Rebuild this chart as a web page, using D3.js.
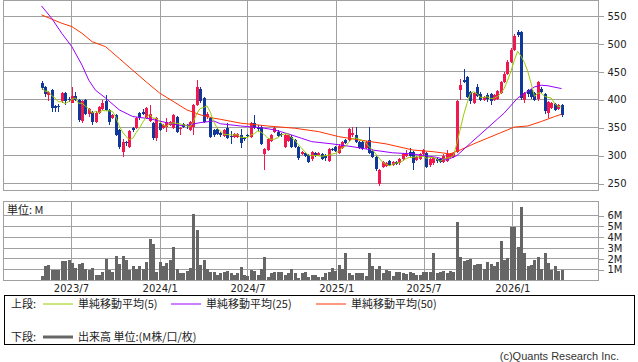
<!DOCTYPE html>
<html>
<head>
<meta charset="utf-8">
<script src="https://cdn.jsdelivr.net/npm/d3@7"></script>
<style>
    body { margin: 0; background: #fff; }
    svg { display: block; font-family: "DejaVu Sans", sans-serif; }
    .jp { font-family: "Noto Sans CJK JP", sans-serif; }
</style>
</head>
<body>
<svg id="chart" width="638" height="362"></svg>
<script>
// weekly bars, first week
const firstWeek = new Date(2023, 4, 1);

const opens = [
    430,423,409,417,388,389,397,412,402,395, 407,400,362,400,374,378,360,376,384,397,
    381,367,372,345,307,325,316,350,350,376, 378,367,362,358,331,358,350,351,355,349,
    369,348,357,355,346,352,390,420,403,370, 367,346,347,341,
    335,349,335,333,334,337,332,336,334,359, 352,352,303,310,327,343,343,338,316,326,
    334,328,316,303,305,301,293,304,301,302, 300,291,311,316,304,313,328,328,336,336,
    325,324,314,328,309,297,250,279,282,290, 283,289,286,293,300,307,307,292,294,
    303,305,283,286,293,293,288,291,298,298, 307,418,435,440,414,394,422,411,400,408,
    410,400,402,412,432,447,468,490,521,522, 400,418,418,412,401,420,410,376,386,392,384,390
];
const highs = [
    433,425,416,419,390,392,414,413,405,422, 413,402,400,401,386,380,379,389,399,409,
    383,374,374,347,330,327,346,352,369,378, 384,387,390,360,369,360,357,367,362,374,
    371,352,359,357,362,392,435,422,405,378, 369,348,349,343,
    348,359,344,340,340,348,334,338,361,373, 355,354,313,331,339,352,345,340,339,338,
    336,330,318,309,307,303,309,306,306,304, 302,313,313,318,320,326,330,349,352,352,
    327,326,327,352,311,299,276,291,289,292, 291,291,296,305,310,313,309,300,304,
    312,307,296,298,296,295,302,310,305,307, 399,438,455,442,416,414,428,413,407,412,
    412,410,418,434,450,472,492,517,525,524, 414,420,420,414,434,422,412,398,396,394,392,392
];
const lows = [
    418,405,398,378,378,378,395,390,396,395, 398,360,358,372,370,354,358,374,382,379,
    355,366,335,312,297,318,314,343,348,364, 372,365,360,328,326,344,348,343,353,347,
    340,337,350,348,344,337,388,395,358,366, 332,333,336,333,
    333,329,321,331,332,313,327,334,332,347, 344,319,275,308,325,340,333,333,314,324,
    314,313,292,301,297,287,291,297,299,292, 290,289,308,306,302,311,320,326,334,323,
    311,310,312,302,296,273,245,277,280,281, 281,283,284,291,298,297,274,290,292,
    301,277,279,283,287,286,286,289,296,296, 305,400,430,403,392,392,405,397,398,396,
    391,398,400,410,430,445,466,488,512,400, 395,405,402,398,398,412,375,368,384,379,382,370
];
const closes = [
    421,410,414,385,385,387,412,397,401,407, 400,363,398,375,384,361,377,387,395,381,
    361,372,337,316,325,322,344,346,367,367, 375,385,375,332,367,346,355,360,360,372,
    342,350,352,353,360,390,422,397,361,375, 334,337,338,336,
    346,331,334,338,338,323,329,335,359,349, 347,321,311,329,337,349,335,336,337,336,
    316,315,295,307,300,289,307,299,304,294, 295,311,310,308,318,324,322,347,340,325,
    313,312,325,304,298,276,274,289,287,283, 289,285,294,303,303,299,286,298,302,
    310,280,294,296,290,288,300,303,303,305, 397,426,432,405,397,412,407,400,405,402,
    398,408,416,432,447,468,489,514,516,403, 412,410,405,400,432,414,379,396,394,381,390,373
];
// volume in millions of shares
const volumes = [
    0.45,1.3,1.4,1.0,1.0,1.0,1.83,1.8,1.92,1.6, 1.2,1.55,1.65,1.1,1.0,1.2,0.5,0.55,0.75,2.0,
    0.95,0.8,2.3,1.55,2.3,1.9,0.95,1.3,1.1,1.3, 1.1,1.7,3.85,3.4,0.75,1.7,1.35,1.65,1.9,3.05,
    1.05,0.7,0.65,0.85,1.2,6.1,4.7,1.45,1.85,1.1, 0.75,0.75,0.5,0.7,0.75,0.85,0.65,0.55,0.7,1.25,
    0.55,0.45,0.95,0.9,0.5,1.1,2.2,0.35,0.7,0.75, 0.8,0.8,0.55,0.7,1.1,0.65,0.25,0.7,0.8,0.3,
    0.55,0.5,0.3,0.35,0.65,0.8,1.15,0.85,1.4,1.1, 2.5,0.7,0.55,0.7,0.65,0.65,0.4,2.5,1.3,1.1,
    1.3,0.65,1.0,0.9,0.45,0.8,0.8,0.7,0.6,0.8, 0.7,0.55,0.55,0.8,0.8,0.75,2.5,0.7,0.8,0.85,
    0.7,0.9,0.8,5.4,2.15,1.8,1.85,2.0,1.45,1.55, 1.55,1.1,1.7,1.55,1.35,1.7,3.65,1.9,2.05,4.95,
    4.9,3.1,6.75,2.55,1.3,1.45,1.85,2.15,1.1,2.55, 1.6,1.0,1.3,0.9,0.95
];

// moving averages (week index -> value)
const ma25Weeks  = [0,3,6,9,12,14,16,19,23,27,32,37,42,47,51,53,59,65,69,73,77,80,86,92,98,104,110,112,117,120,123,127,132,137,141,144,146,148,150,154];
const ma25Values = [568,546,519,495,462,435,417,403,382,370,366,359,353,359,362,357,353,350,346,339,331,325,321,316,310,305,303,301,297,292,300,322,349,376,403,415,423,426,425,420];
const ma50Weeks  = [0,6,9,12,15,19,23,27,31,35,39,43,47,51,53,59,67,75,82,88,94,102,110,116,121,124,128,132,136,140,144,148,152,154];
const ma50Values = [552,537,531,519,504,495,474,453,432,412,397,382,373,367,365,358,353,349,343,334,328,321,310,307,303,310,321,331,341,351,353,361,370,374];

const priceTicks = [250, 300, 350, 400, 450, 500, 550];
const volumeTicks = [1, 2, 3, 4, 5, 6];
const axisMonths = ["2023/7", "2024/1", "2024/7", "2025/1", "2025/7", "2026/1"];

const upColor = "#f0184e", downColor = "#10379a";
const gridColor = "#a0a0a0";

let dates = opens.map((_, i) => d3.timeWeek.offset(firstWeek, i));
let candles = dates.map((d, i) => ({date: d, o: opens[i], h: highs[i], l: lows[i], c: closes[i], v: volumes[i]}));

// 5 week average from the closes
let ma5 = candles.map((d, i) => ({date: d.date, v: d3.mean(closes.slice(Math.max(0, i - 4), i + 1))}));
let ma25 = ma25Weeks.map((w, i) => ({date: dates[w], v: ma25Values[i]}));
let ma50 = ma50Weeks.map((w, i) => ({date: dates[w], v: ma50Values[i]}));
let gridDates = axisMonths.map(s => { let [y, m] = s.split("/"); return new Date(+y, +m - 1, 1); });

const left = 3.5, right = 598.5;
const priceTop = 0.5, priceBottom = 190.5;
const volTop = 201.5, volBottom = 280.5;

let x = d3.scaleTime().domain([dates[0], dates[dates.length - 1]]).range([41.5, 561.5]);
let yPrice = d3.scaleLinear().domain([250, 550]).range([183.5, 16]);
let yVol = d3.scaleLinear().domain([0, 6]).range([volBottom, 215.5]);

let svg = d3.select("#chart");

// grid
let grid = svg.append("g").attr("stroke", gridColor).attr("shape-rendering", "crispEdges");
grid.selectAll("line.hp").data(priceTicks).enter().append("line")
    .attr("x1", left).attr("x2", right).attr("y1", d => yPrice(d)).attr("y2", d => yPrice(d));
grid.selectAll("line.hv").data(volumeTicks).enter().append("line")
    .attr("x1", left).attr("x2", right).attr("y1", d => yVol(d)).attr("y2", d => yVol(d));
grid.selectAll("line.vp").data(gridDates).enter().append("line")
    .attr("x1", d => Math.round(x(d)) + 0.5).attr("x2", d => Math.round(x(d)) + 0.5)
    .attr("y1", priceTop).attr("y2", priceBottom);
grid.selectAll("line.vv").data(gridDates).enter().append("line")
    .attr("x1", d => Math.round(x(d)) + 0.5).attr("x2", d => Math.round(x(d)) + 0.5)
    .attr("y1", volTop).attr("y2", volBottom);

// volume bars
svg.append("g").attr("shape-rendering", "crispEdges")
    .selectAll("rect").data(candles).enter().append("rect")
    .attr("x", d => Math.round(x(d.date)) - 1)
    .attr("width", 3)
    .attr("y", d => yVol(d.v))
    .attr("height", d => yVol(0) - yVol(d.v))
    .attr("fill", "#666");

// candles
let cg = svg.append("g").attr("shape-rendering", "crispEdges");
cg.selectAll("line").data(candles).enter().append("line")
    .attr("x1", d => Math.round(x(d.date)) + 0.5).attr("x2", d => Math.round(x(d.date)) + 0.5)
    .attr("y1", d => yPrice(d.h)).attr("y2", d => yPrice(d.l))
    .attr("stroke", d => d.c >= d.o ? upColor : downColor);
cg.selectAll("rect").data(candles).enter().append("rect")
    .attr("x", d => Math.round(x(d.date)) - 1)
    .attr("width", 3)
    .attr("y", d => yPrice(Math.max(d.o, d.c)))
    .attr("height", d => Math.max(1, Math.abs(yPrice(d.o) - yPrice(d.c))))
    .attr("fill", d => d.c >= d.o ? upColor : downColor);

// moving averages
let line = d3.line().x(d => x(d.date)).y(d => yPrice(d.v));
[[ma50, "#ff3300"], [ma25, "#9900ff"], [ma5, "#99cc00"]].forEach(([data, color]) => {
    svg.append("path").datum(data).attr("d", line)
        .attr("fill", "none").attr("stroke", color).attr("stroke-width", 1);
});

// panel borders
svg.append("g").attr("fill", "none").attr("stroke", gridColor).attr("shape-rendering", "crispEdges")
    .selectAll("rect").data([[priceTop, priceBottom], [volTop, volBottom]]).enter().append("rect")
    .attr("x", left).attr("y", d => d[0]).attr("width", right - left).attr("height", d => d[1] - d[0]);

// axes
function styleAxis(g) {
    g.select(".domain").remove();
    g.selectAll(".tick line").attr("stroke", gridColor).attr("shape-rendering", "crispEdges");
    g.selectAll(".tick text").attr("fill", "#222").attr("font-size", 10)
        .attr("font-family", "DejaVu Sans, sans-serif");
}
svg.append("g").attr("transform", `translate(${right},0)`)
    .call(d3.axisRight(yPrice).tickValues(priceTicks).tickSize(5).tickPadding(4))
    .call(styleAxis);
svg.append("g").attr("transform", `translate(${right},0)`)
    .call(d3.axisRight(yVol).tickValues(volumeTicks).tickFormat(d => d + "M").tickSize(5).tickPadding(4))
    .call(styleAxis);
svg.append("g").attr("transform", `translate(0,${volBottom})`)
    .call(d3.axisBottom(x).tickValues(gridDates).tickFormat((d, i) => axisMonths[i]).tickSize(0).tickPadding(4))
    .call(styleAxis);

svg.append("text").attr("class", "jp").attr("x", 7).attr("y", 214)
    .attr("font-size", 11).attr("fill", "#222").text("単位: M");

// legend
svg.append("rect").attr("x", 4.5).attr("y", 295.5).attr("width", 630).attr("height", 49)
    .attr("fill", "none").attr("stroke", "#000").attr("shape-rendering", "crispEdges");

const legendRows = [
    {y: 304, label: "上段:", items: [
        {x: 43, color: "#99cc00", w: 1, text: "単純移動平均(5)"},
        {x: 171, color: "#9900ff", w: 1, text: "単純移動平均(25)"},
        {x: 316, color: "#ff3300", w: 1, text: "単純移動平均(50)"}]},
    {y: 337, label: "下段:", items: [
        {x: 43, color: "#666", w: 3, text: "出来高 単位:(M株/口/枚)"}]}
];
let lg = svg.append("g").attr("class", "jp").attr("font-size", 11).attr("fill", "#222");
legendRows.forEach(row => {
    lg.append("text").attr("x", 11).attr("y", row.y).attr("dy", "0.35em").text(row.label);
    row.items.forEach(it => {
        lg.append("line").attr("x1", it.x).attr("x2", it.x + 30).attr("y1", row.y).attr("y2", row.y)
            .attr("stroke", it.color).attr("stroke-width", it.w);
        lg.append("text").attr("x", it.x + 35).attr("y", row.y).attr("dy", "0.35em").text(it.text);
    });
});

svg.append("text").attr("x", 619).attr("y", 360).attr("text-anchor", "end")
    .attr("font-family", "Liberation Sans, Arial, sans-serif").attr("font-size", 11)
    .attr("fill", "#333").text("(c)Quants Research Inc.");
</script>
</body>
</html>
